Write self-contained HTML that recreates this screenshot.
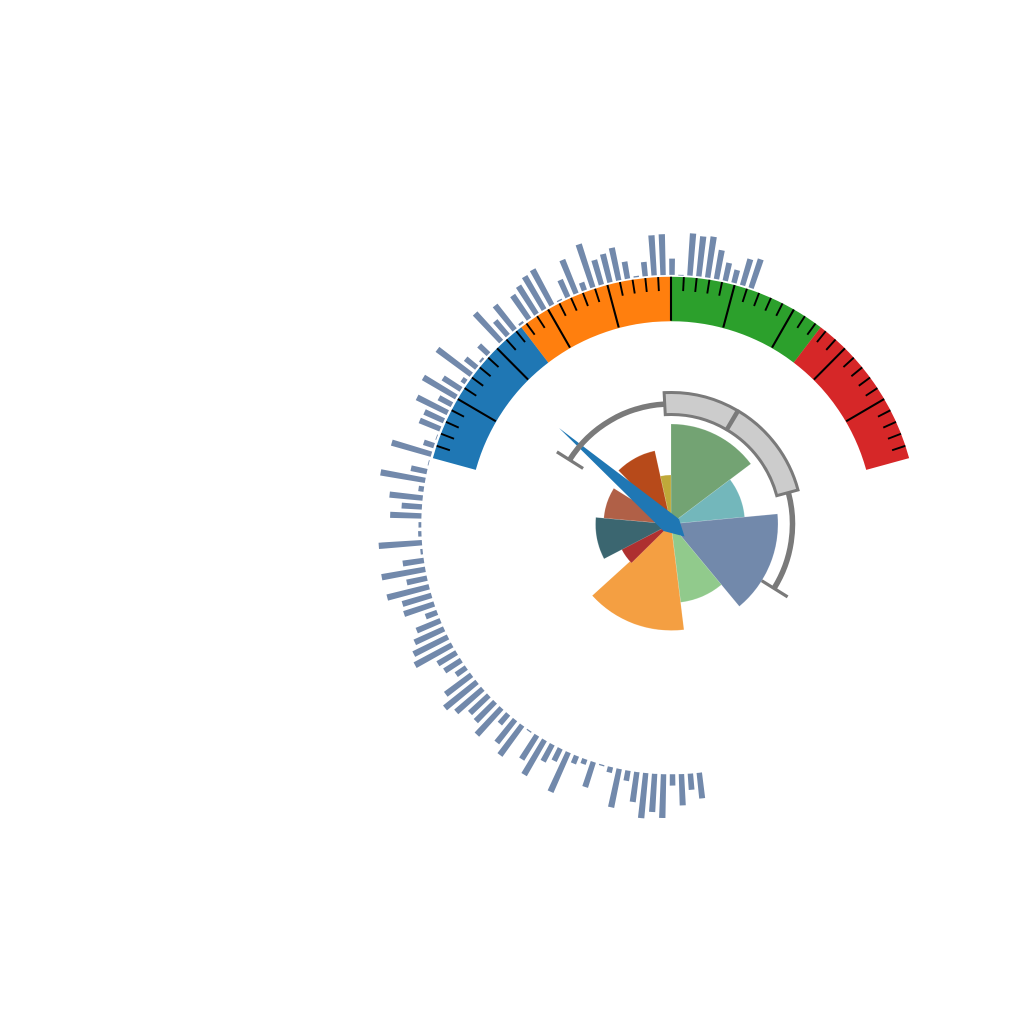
<!DOCTYPE html>
<html>
<head>
<meta charset="utf-8">
<title>Gauge with rose and radial bars</title>
<style>
html,body{margin:0;padding:0;background:#ffffff;}
svg{display:block;}
</style>
</head>
<body>
<svg id="chart" width="1024" height="1024" viewBox="0 0 1024 1024" xmlns="http://www.w3.org/2000/svg"></svg>
<script>
// Outer radial bars, listed clockwise-to-anticlockwise from the upper right
const barValues = [31,28,14,19,30,42,41,43,1,17,41.5,41,15,2,18,34,30,26.5,46,9,37,19.5,2,41,39,34,29.5,3,32,20,39,0,13.5,3,15,43,5.5,22,39,15.5,35,22,23,1.5,11.5,42,1.5,17,46,6,34,21,32,3.5,4,44,3,22,45,21.5,44,31,32.5,13,26.5,33,39,43,22.5,20.5,13,33,42,36,26.5,28,37,13.5,30,38,2,29,41,20,14.5,44,9,6,27,2,6.5,40,11,31,46,39,44.5,12,32,17,26.5];
const barStartAngle = 18.7;
const barEndAngle = -186.5;
// Gauge scale
const gaugeMin = 0;
const gaugeMax = 100;
const gaugeBands = [25,50,75,100];
const gaugeBandColors = ['#1f77b4','#ff7f0e','#2ca02c','#d62728'];
const gaugeMajorStep = 10;
const gaugeMinorStep = 2;
const needleValue = 16.89;
// Rose wedges
const wedgeNames = ['green','teal','slate','light-green','orange','dark-red','dark-teal','salmon','rust','gold'];
const wedgeStarts = [0,53,84.6,140.3,173,225.4,242.5,275,315.5,347.5];
const wedgeEnds = [53,84.6,140.3,173,227.7,243,275,302,347.5,360];
const wedgeValues = [100,74,107,79,106.5,55.5,75.5,67.5,75,49];
const wedgeColors = ['#73a373','#73b7bb','#7289ab','#91ca8c','#f49f42','#ae3030','#3b6670','#b06047','#b74a1a','#bfa93a'];
// Range indicator
const rangeBoxAngles = [-3,30.6,75];
const rangeLineAngles = [-57.7,122];

const NS = 'http://www.w3.org/2000/svg';
const svg = document.getElementById('chart');
const cx = 671, cy = 524;

function pt(angle, r){
  const a = angle * Math.PI / 180;
  return [cx + r * Math.sin(a), cy - r * Math.cos(a)];
}
function f(n){ return n.toFixed(2); }
function sector(a0, a1, r0, r1){
  const large = Math.abs(a1 - a0) > 180 ? 1 : 0;
  const p0 = pt(a0, r1), p1 = pt(a1, r1);
  if (r0 <= 0) {
    return 'M' + cx + ' ' + cy + 'L' + f(p0[0]) + ' ' + f(p0[1]) + 'A' + r1 + ' ' + r1 + ' 0 ' + large + ' 1 ' + f(p1[0]) + ' ' + f(p1[1]) + 'Z';
  }
  const p2 = pt(a1, r0), p3 = pt(a0, r0);
  return 'M' + f(p0[0]) + ' ' + f(p0[1]) + 'A' + r1 + ' ' + r1 + ' 0 ' + large + ' 1 ' + f(p1[0]) + ' ' + f(p1[1]) +
         'L' + f(p2[0]) + ' ' + f(p2[1]) + 'A' + r0 + ' ' + r0 + ' 0 ' + large + ' 0 ' + f(p3[0]) + ' ' + f(p3[1]) + 'Z';
}
function arc(a0, a1, r){
  const p0 = pt(a0, r), p1 = pt(a1, r);
  const large = Math.abs(a1 - a0) > 180 ? 1 : 0;
  return 'M' + f(p0[0]) + ' ' + f(p0[1]) + 'A' + r + ' ' + r + ' 0 ' + large + ' 1 ' + f(p1[0]) + ' ' + f(p1[1]);
}
function gaugeAngle(v){
  return -74.6 + (v - gaugeMin) / (gaugeMax - gaugeMin) * 149.2;
}
function make(tag, attrs){
  const el = document.createElementNS(NS, tag);
  for (const k in attrs) el.setAttribute(k, attrs[k]);
  svg.appendChild(el);
  return el;
}

// Radial bars
const barBase = 249;
const barHalf = 0.62;
barValues.forEach(function(v, i){
  if (v <= 0) return;
  const ang = barStartAngle + (barEndAngle - barStartAngle) * i / (barValues.length - 1);
  const inner = Math.min(249.7, barBase + v - 0.8);
  const el = make('path', {d: sector(ang - barHalf, ang + barHalf, inner, barBase + v), fill: '#7289ab', transform: 'translate(0,0.6)'});
  
  
});

// Gauge bands
let bandStart = gaugeMin;
gaugeBands.forEach(function(end, i){
  const el = make('path', {d: sector(gaugeAngle(bandStart), gaugeAngle(end), 202.5, 247), fill: gaugeBandColors[i], transform: 'translate(0,-0.3)'});
  
  
  bandStart = end;
});

// Gauge ticks
for (let v = gaugeMin + gaugeMinorStep; v < gaugeMax; v += gaugeMinorStep) {
  const major = v % gaugeMajorStep === 0;
  const a = gaugeAngle(v);
  const p0 = pt(a, 247), p1 = pt(a, major ? 203 : 233);
  const tick = make('line', {x1: f(p0[0]), y1: f(p0[1]), x2: f(p1[0]), y2: f(p1[1]), stroke: '#000', 'stroke-width': major ? 2.1 : 1.9, transform: 'translate(0,-0.3)'});
  
  
}

// Rose wedges
wedgeValues.forEach(function(v, i){
  const el = make('path', {d: sector(wedgeStarts[i], wedgeEnds[i], 0, v), fill: wedgeColors[i], stroke: '#ffffff', 'stroke-opacity': 0.3, 'stroke-width': 0.5});
  
  
});

// Needle
(function(){
  const a = gaugeAngle(needleValue) * Math.PI / 180;
  const ux = Math.sin(a), uy = -Math.cos(a), vx = Math.cos(a), vy = Math.sin(a);
  const shape = [[147.5,0],[-2.8,9],[-18.4,-0.7],[1.1,-10.2]];
  const pts = shape.map(function(s){
    return f(cx + s[0] * ux + s[1] * vx) + ',' + f(cy + s[0] * uy + s[1] * vy);
  }).join(' ');
  const el = make('polygon', {points: pts, fill: '#1f77b4'});
  
  
})();

// Range line with end caps
const lineLeft = make('path', {d: arc(rangeLineAngles[0], rangeBoxAngles[0], 120), fill: 'none', stroke: '#7a7a7a', 'stroke-width': 5.5});


const lineRight = make('path', {d: arc(rangeBoxAngles[2], rangeLineAngles[1], 121.5), fill: 'none', stroke: '#7a7a7a', 'stroke-width': 5.5});


const capLeft0 = pt(rangeLineAngles[0], 104), capLeft1 = pt(rangeLineAngles[0], 135);
const capLeft = make('line', {x1: f(capLeft0[0]), y1: f(capLeft0[1]), x2: f(capLeft1[0]), y2: f(capLeft1[1]), stroke: '#7a7a7a', 'stroke-width': 3.2});


const capRight0 = pt(rangeLineAngles[1], 107), capRight1 = pt(rangeLineAngles[1], 137.5);
const capRight = make('line', {x1: f(capRight0[0]), y1: f(capRight0[1]), x2: f(capRight1[0]), y2: f(capRight1[1]), stroke: '#7a7a7a', 'stroke-width': 3.2});



// Range boxes
for (let i = 0; i < rangeBoxAngles.length - 1; i++) {
  const startGap = i === 0 ? 0 : 0.35;
  const endGap = i === rangeBoxAngles.length - 2 ? 0 : 0.35;
  const box = make('path', {d: sector(rangeBoxAngles[i] + startGap, rangeBoxAngles[i + 1] - endGap, 109.5, 131.5), fill: '#cccccc', stroke: '#7a7a7a', 'stroke-width': 3});
  
  
}
</script>
</body>
</html>
